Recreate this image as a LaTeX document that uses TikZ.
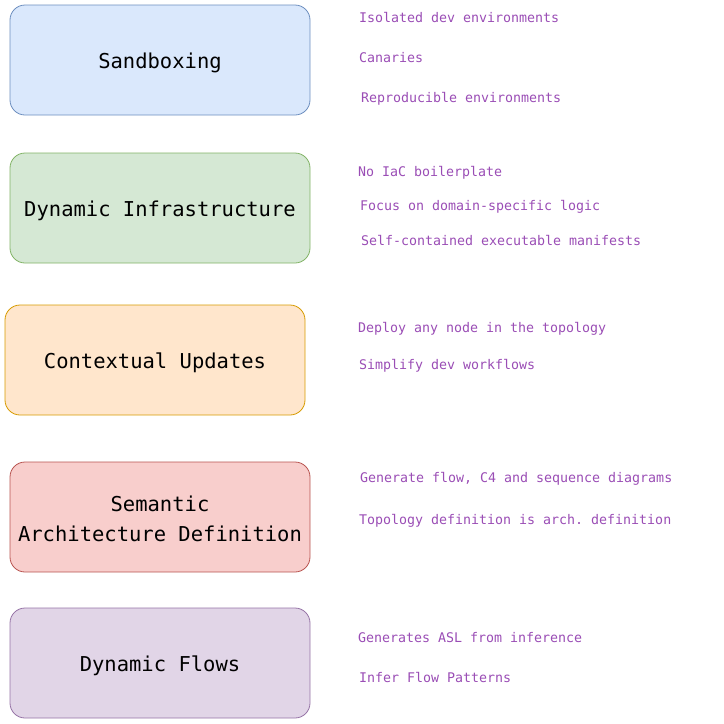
\documentclass[tikz,border=0pt]{standalone}
\usepackage{fontspec}
\setmonofont{DejaVu Sans Mono}
\usepackage{xcolor}
\usetikzlibrary{positioning}
\definecolor{blueFill}{HTML}{DAE8FC}\definecolor{blueLine}{HTML}{6C8EBF}
\definecolor{greenFill}{HTML}{D5E8D4}\definecolor{greenLine}{HTML}{82B366}
\definecolor{orangeFill}{HTML}{FFE6CC}\definecolor{orangeLine}{HTML}{D79B00}
\definecolor{redFill}{HTML}{F8CECC}\definecolor{redLine}{HTML}{B85450}
\definecolor{purpleFill}{HTML}{E1D5E7}\definecolor{purpleLine}{HTML}{9673A6}
\definecolor{noteText}{HTML}{9A4DB5}
\begin{document}
\begin{tikzpicture}[x=1pt,y=-1pt,every node/.style={outer sep=0pt},
		feature/.style={draw,line width=0.8pt,rounded corners=15pt,minimum width=300pt,minimum height=110pt,
		inner sep=0pt},
		title/.style={inner sep=0pt,align=center,yshift=-3pt,font=\ttfamily\fontsize{20.5}{30}\selectfont},
		note/.style={anchor=west,inner sep=0pt,text=noteText,text height=1.5ex,text depth=.4ex,
		font=\ttfamily\fontsize{13.3}{16}\selectfont},
		]
		\useasboundingbox (0,0) rectangle (724,724);
		% feature boxes
		\path (160,60) node[feature,fill=blueFill,draw=blueLine] (sandbox){};
		\path (160,208) node[feature,fill=greenFill,draw=greenLine] (dyninfra){};
		\path (155,360) node[feature,fill=orangeFill,draw=orangeLine] (ctxupd){};
		\path (160,517) node[feature,fill=redFill,draw=redLine] (semarch){};
		\path (160,663) node[feature,fill=purpleFill,draw=purpleLine] (dynflow){};
		\node[title] (sandboxT) at (sandbox.center) {Sandboxing};
		\node[title] (dyninfraT) at (dyninfra.center) {Dynamic Infrastructure};
		\node[title] (ctxupdT) at (ctxupd.center) {Contextual Updates};
		\node[title,yshift=1pt] (semarchT) at (semarch.center) {Semantic\\Architecture Definition};
		\node[title] (dynflowT) at (dynflow.center) {Dynamic Flows};
		% notes
		\path (359,20) node[note] (sbA){Isolated dev environments};
		\path (359,60) node[note] (sbB){Canaries};
		\path (361,100) node[note] (sbC){Reproducible environments};
		\path (358,174) node[note] (diA){No IaC boilerplate};
		\path (360,208) node[note] (diB){Focus on domain-specific logic};
		\path (361,243) node[note] (diC){Self-contained executable manifests};
		\path (358,330) node[note] (cuA){Deploy any node in the topology};
		\path (359,367) node[note] (cuB){Simplify dev workflows};
		\path (360,480) node[note] (saA){Generate flow, C4 and sequence diagrams};
		\path (359,522) node[note] (saB){Topology definition is arch. definition};
		\path (358,640) node[note] (dfA){Generates ASL from inference};
		\path (359,680) node[note] (dfB){Infer Flow Patterns};
	\end{tikzpicture}
\end{document}
